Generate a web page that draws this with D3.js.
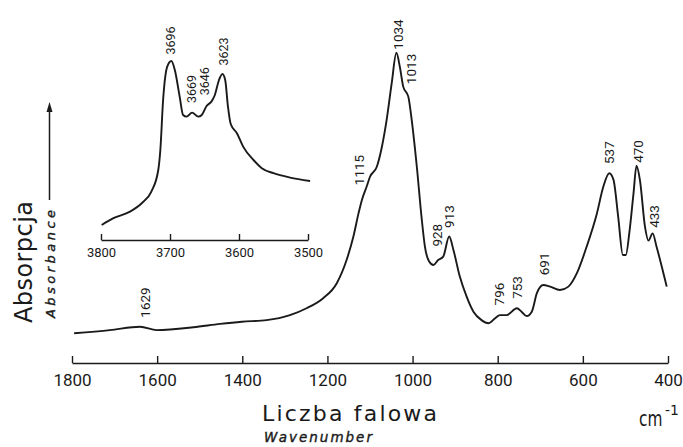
<!DOCTYPE html>
<html>
<head>
<meta charset="utf-8">
<script src="https://cdn.jsdelivr.net/npm/d3@7"></script>
<style>
  body { margin: 0; background: #fff; }
  svg { display: block; }
</style>
</head>
<body>
<div id="chart"></div>
<script>
// main spectrum (wavenumber cm-1, absorbance in arbitrary units)
var mainWavenumber = [1795, 1711, 1640, 1601, 1515, 1452, 1401, 1343, 1288, 1249, 1210, 1178, 1155, 1139,
    1127, 1119, 1108, 1100, 1084, 1072, 1061, 1049, 1038, 1030, 1022, 1010, 1002, 990, 979, 971, 961, 951,
    940, 928, 914, 904, 889, 873, 857, 838, 822, 806, 795, 779, 755, 744, 732, 720, 708, 693, 677, 654, 634,
    614, 591, 567, 552, 538, 528, 517, 506, 499, 491, 481, 474, 466, 454, 446, 436, 427, 403];
var mainAbsorbance = [9.5, 10.5, 11.6, 10.5, 11.4, 12.5, 13.2, 13.7, 15.3, 17.5, 20.7, 25.5, 32.9, 40.4,
    47.8, 52.1, 56.3, 59.5, 62.7, 69.1, 77.6, 89.4, 99.1, 94.7, 88.3, 85.1, 77.6, 62.7, 46.7, 37.2, 32.4, 31.3,
    32.9, 34.0, 40.4, 36.1, 27.6, 21.2, 16.4, 13.7, 12.7, 14.3, 15.3, 15.3, 17.5, 16.4, 15.0, 16.4, 22.3, 24.9,
    24.4, 23.3, 24.4, 28.7, 37.2, 47.8, 56.3, 60.6, 58.5, 46.7, 34.5, 34.5, 41.4, 54.2, 63.0, 58.5, 43.5, 39.1,
    41.4, 37.2, 24.4];

// OH stretching region (inset)
var insetWavenumber = [3799, 3782, 3758, 3741, 3727, 3717, 3714, 3710, 3704, 3698, 3693, 3686, 3681, 3676,
    3668, 3659, 3654, 3647, 3640, 3635, 3629, 3624, 3620, 3616, 3612, 3603, 3594, 3579, 3567, 3550, 3526, 3497];
var insetAbsorbance = [7.5, 10.9, 14.2, 18.4, 24.2, 35, 45, 70, 86.7, 89.5, 85, 71.7, 62.5, 61.7,
    63.7, 61.7, 62.5, 67, 69.2, 72.5, 80, 83, 80, 66.7, 58, 53.4, 46.7, 40, 35.9, 33.4, 31.2, 29.5];

var mainPeaks = [1629, 1115, 1034, 1013, 928, 913, 796, 753, 691, 537, 470, 433];
var insetPeaks = [3696, 3669, 3646, 3623];
var mainTicks = [1800, 1600, 1400, 1200, 1000, 800, 600, 400];
var insetTicks = [3800, 3700, 3600, 3500];

var width = 683;
var height = 447;
var ink = "#1a1a1a";
var numFont = "Roboto, 'DejaVu Sans', sans-serif";
var titleFont = "'DejaVu Sans', sans-serif";

var svg = d3.select("#chart")
    .append("svg")
    .attr("width", width)
    .attr("height", height);

svg.append("rect")
    .attr("width", width)
    .attr("height", height)
    .attr("fill", "#fff");

var xMain = d3.scaleLinear().domain([1800, 400]).range([72, 668]);
var yMain = d3.scaleLinear().domain([0, 100]).range([363, 50]);
var xInset = d3.scaleLinear().domain([3800, 3500]).range([101, 308]);
var yInset = d3.scaleLinear().domain([0, 100]).range([240, 40]);

// value of a series at a given wavenumber (for placing the peak labels)
var valueAt = function(wns, vals, w) {
    for (var i = 0; i < wns.length - 1; i++) {
        if (w <= wns[i] && w >= wns[i + 1]) {
            var t = (wns[i] - w) / (wns[i] - wns[i + 1]);
            return vals[i] + t * (vals[i + 1] - vals[i]);
        }
    }
    return vals[vals.length - 1];
};

var drawSpectrum = function(wns, vals, x, y) {
    var line = d3.line()
        .x(function(d, i) { return x(wns[i]); })
        .y(function(d, i) { return y(vals[i]); })
        .curve(d3.curveMonotoneX);
    svg.append("path")
        .datum(wns)
        .attr("d", line)
        .attr("fill", "none")
        .attr("stroke", ink)
        .attr("stroke-width", 1.9)
        .attr("stroke-linejoin", "round");
};

var drawAxis = function(x, ticks, top, tickLen, fontSize, pad) {
    var g = svg.append("g")
        .attr("transform", "translate(0," + top + ")")
        .call(d3.axisBottom(x)
            .tickValues(ticks)
            .tickFormat(d3.format("d"))
            .tickSizeInner(-tickLen)
            .tickSizeOuter(0)
            .tickPadding(pad));
    g.select(".domain").attr("stroke", ink).attr("stroke-width", 1.6);
    g.selectAll(".tick line").attr("stroke", ink).attr("stroke-width", 1.4);
    g.selectAll(".tick text")
        .attr("fill", ink)
        .attr("font-family", numFont)
        .attr("font-size", fontSize);
    return g;
};

// labels written upright along the peaks
var labelShift = {1115: -4, 1013: 4, 928: -6, 3696: -2, 3646: -3};
var drawPeakLabels = function(peaks, wns, vals, x, y, fontSize, gap) {
    svg.selectAll("whatever")
        .data(peaks)
        .enter()
        .append("text")
        .attr("transform", function(d) {
            var px = x(d) + (labelShift[d] || 0);
            var py = y(valueAt(wns, vals, d)) - gap;
            return "translate(" + px + "," + py + ") rotate(-90)";
        })
        .attr("dy", "0.35em")
        .attr("text-anchor", "start")
        .attr("font-family", numFont)
        .attr("font-size", fontSize)
        .attr("fill", ink)
        .text(function(d) { return d; });
};

// main spectrum
drawAxis(xMain, mainTicks, 363, 7, 17, 11);
drawSpectrum(mainWavenumber, mainAbsorbance, xMain, yMain);
drawPeakLabels(mainPeaks, mainWavenumber, mainAbsorbance, xMain, yMain, 13.5, 10);

// inset
drawAxis(xInset, insetTicks, 240, 6, 13, 8);
drawSpectrum(insetWavenumber, insetAbsorbance, xInset, yInset);
drawPeakLabels(insetPeaks, insetWavenumber, insetAbsorbance, xInset, yInset, 12.5, 10);

// x axis titles
svg.append("text")
    .attr("x", 262)
    .attr("y", 421)
    .attr("font-family", titleFont)
    .attr("font-size", 22)
    .attr("textLength", 175)
    .attr("lengthAdjust", "spacing")
    .attr("fill", ink)
    .text("Liczba falowa");

svg.append("text")
    .attr("x", 264)
    .attr("y", 442)
    .attr("font-family", titleFont)
    .attr("font-size", 13.5)
    .attr("font-style", "italic")
    .attr("textLength", 108)
    .attr("lengthAdjust", "spacing")
    .attr("fill", ink)
    .attr("stroke", ink)
    .attr("stroke-width", 0.4)
    .text("Wavenumber");

// unit, narrowed, with the exponent as its own text
svg.append("text")
    .attr("transform", "translate(639,426) scale(0.7,1)")
    .attr("font-family", titleFont)
    .attr("font-size", 22)
    .attr("fill", ink)
    .text("cm");

svg.append("text")
    .attr("x", 665)
    .attr("y", 415)
    .attr("font-family", titleFont)
    .attr("font-size", 14)
    .attr("fill", ink)
    .text("-1");

// y axis titles and arrow
svg.append("text")
    .attr("transform", "translate(32,323) rotate(-90)")
    .attr("font-family", titleFont)
    .attr("font-size", 24)
    .attr("textLength", 122)
    .attr("lengthAdjust", "spacing")
    .attr("fill", ink)
    .text("Absorpcja");

svg.append("text")
    .attr("transform", "translate(55,318) rotate(-90)")
    .attr("font-family", titleFont)
    .attr("font-size", 13)
    .attr("font-style", "italic")
    .attr("textLength", 108)
    .attr("lengthAdjust", "spacing")
    .attr("fill", ink)
    .attr("stroke", ink)
    .attr("stroke-width", 0.4)
    .text("Absorbance");

svg.append("line")
    .attr("x1", 49.5).attr("y1", 200)
    .attr("x2", 49.5).attr("y2", 110)
    .attr("stroke", ink)
    .attr("stroke-width", 1.5);

svg.append("path")
    .attr("d", d3.line()([[46.5, 112], [49.5, 102], [52.5, 112]]) + "Z")
    .attr("fill", ink);
</script>
</body>
</html>
